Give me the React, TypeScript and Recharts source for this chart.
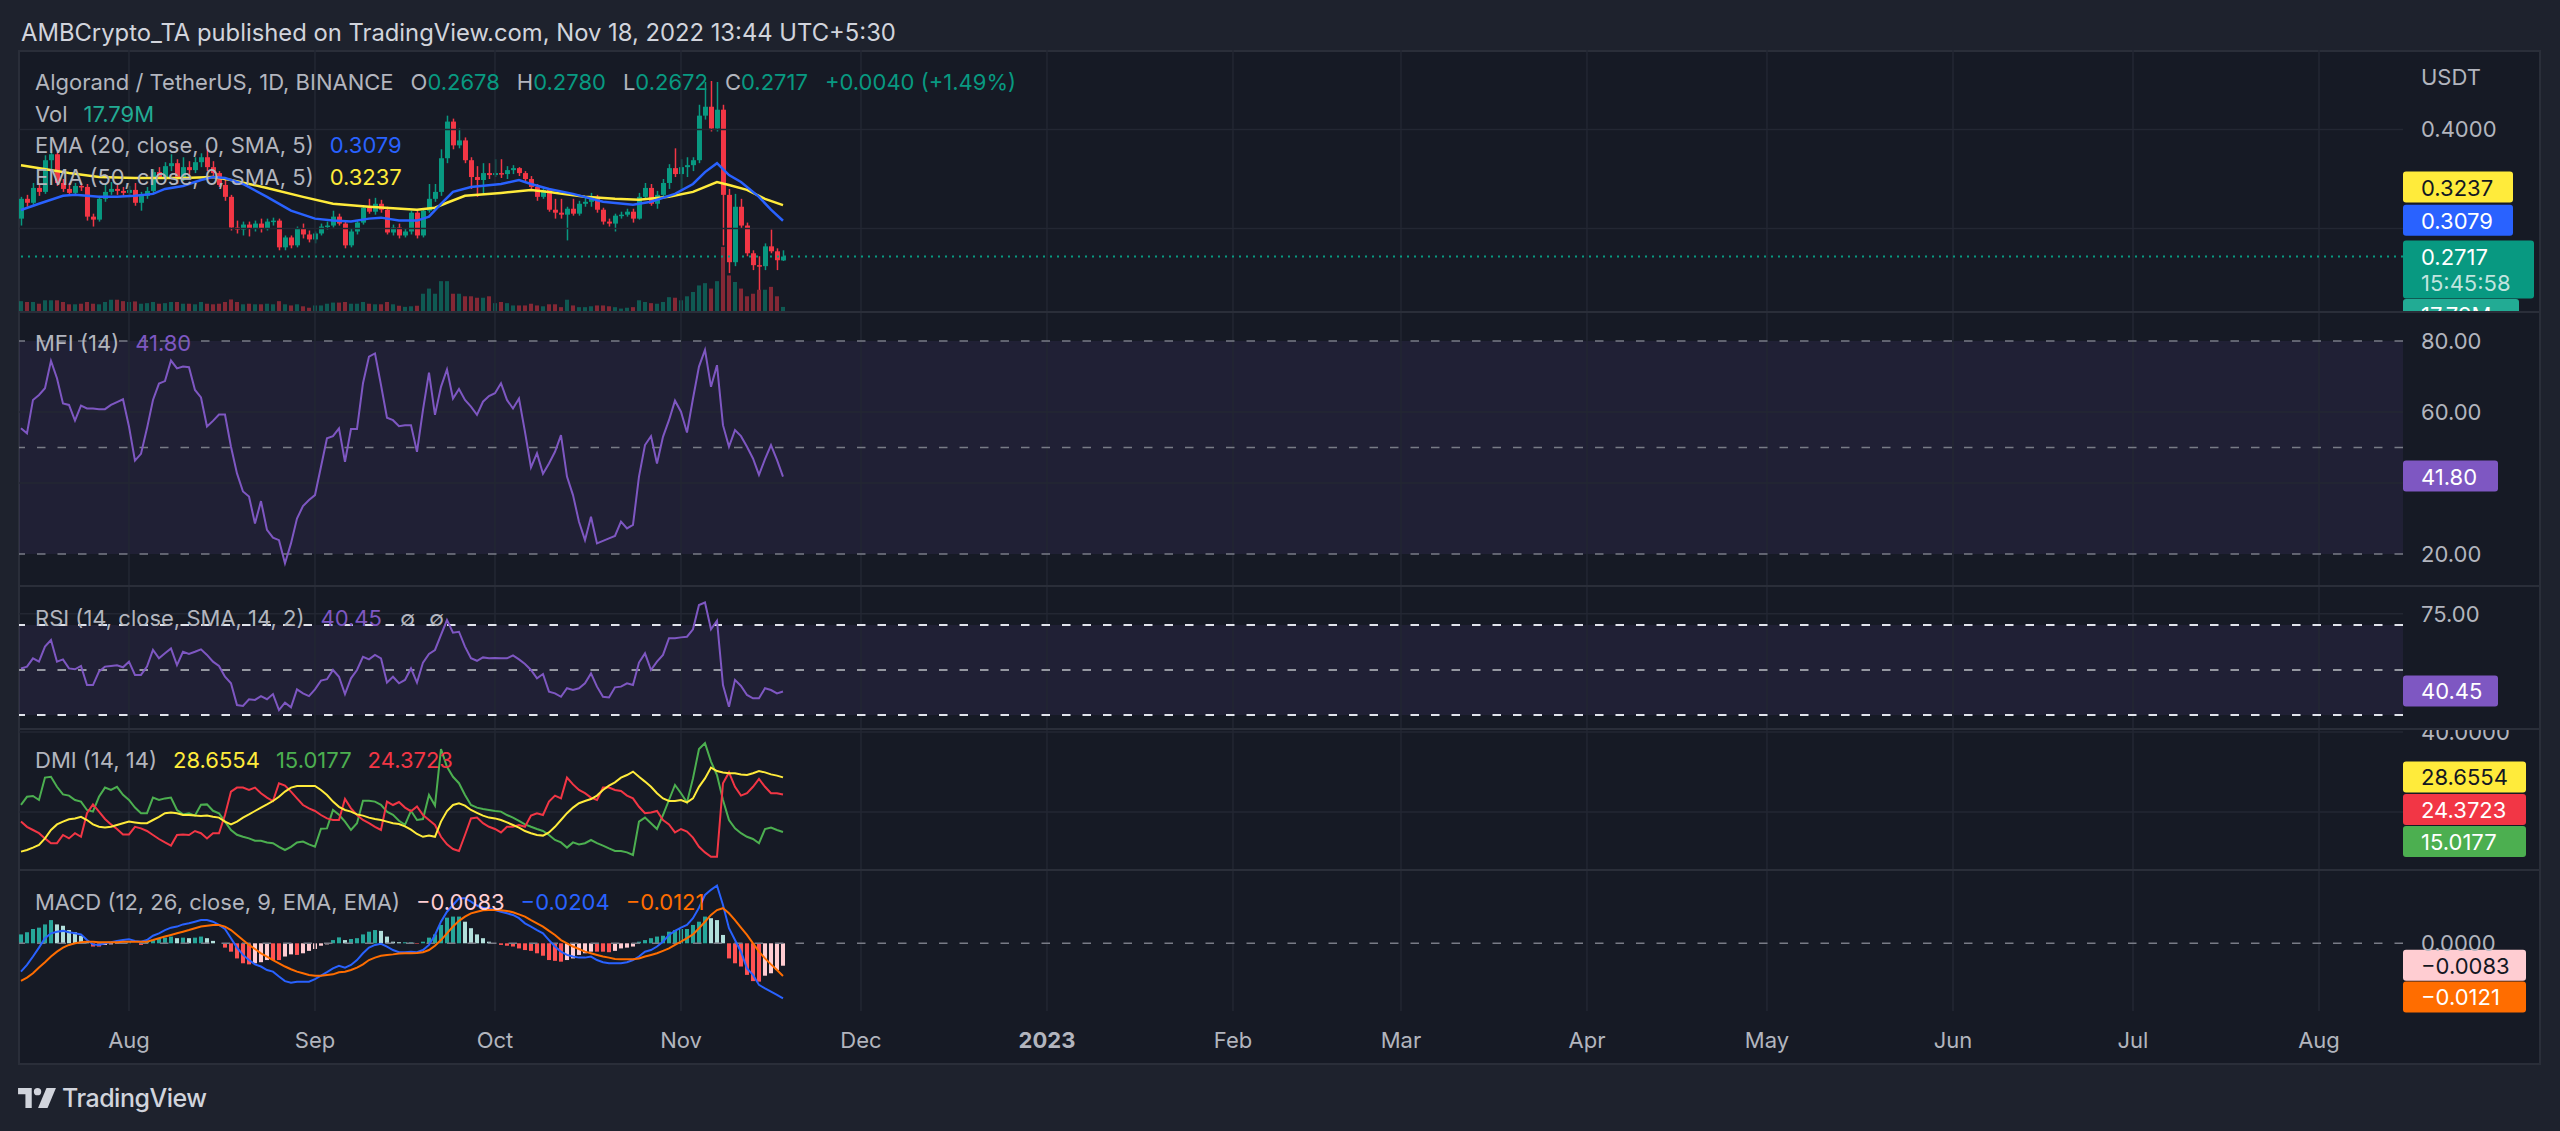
import React from 'react'
import {
  ComposedChart,
  Bar,
  Line,
  XAxis,
  YAxis,
  ReferenceLine,
  ReferenceArea,
  Cell
} from 'recharts'

const title = 'AMBCrypto_TA published on TradingView.com, Nov 18, 2022 13:44 UTC+5:30'

// day index 0 = Jul 14 2022, one candle per day up to Nov 18 (index 127)
const monthTicks = [18, 49, 79, 110, 140, 171, 202, 230, 261, 291, 322, 352, 383]
const monthLabels = ['Aug', 'Sep', 'Oct', 'Nov', 'Dec', '2023', 'Feb', 'Mar', 'Apr', 'May', 'Jun', 'Jul', 'Aug']

const openP = [
  .310, .330, .326, .341, .337, .369, .375, .346, .340, .336,
  .343, .342, .312, .309, .330, .337, .340, .338, .336, .339,
  .326, .333, .338, .357, .352, .363, .366, .350, .362, .359,
  .367, .372, .362, .356, .344, .332, .301, .299, .304, .300,
  .305, .300, .307, .308, .281, .291, .283, .300, .294, .289,
  .295, .302, .303, .312, .305, .283, .297, .306, .321, .317,
  .325, .319, .296, .301, .293, .297, .316, .293, .318, .330,
  .337, .371, .408, .384, .389, .369, .352, .349, .356, .354,
  .356, .355, .359, .361, .356, .350, .342, .332, .339, .319,
  .316, .314, .320, .315, .325, .327, .332, .319, .307, .305,
  .313, .314, .317, .310, .332, .341, .325, .334, .346, .361,
  .355, .362, .364, .369, .414, .423, .401, .420, .334, .266,
  .322, .303, .275, .263, .262, .282, .277, .2678
]
const highP = [
  .332, .334, .346, .344, .374, .380, .377, .350, .346, .346,
  .346, .345, .315, .333, .345, .347, .344, .342, .343, .346,
  .337, .342, .360, .362, .367, .375, .370, .372, .368, .372,
  .376, .384, .368, .358, .350, .334, .308, .307, .307, .308,
  .310, .310, .311, .310, .293, .293, .302, .305, .298, .297,
  .305, .307, .318, .315, .307, .300, .308, .323, .330, .331,
  .329, .322, .304, .305, .300, .318, .319, .320, .345, .345,
  .380, .414, .411, .401, .392, .372, .363, .366, .366, .370,
  .370, .363, .364, .362, .358, .353, .345, .341, .341, .330,
  .330, .322, .330, .328, .331, .336, .334, .321, .310, .315,
  .317, .320, .320, .336, .346, .345, .338, .350, .365, .381,
  .370, .372, .372, .425, .448, .449, .448, .425, .340, .335,
  .330, .306, .278, .272, .285, .299, .280, .2780
]
const lowP = [
  .303, .322, .324, .333, .335, .360, .343, .337, .333, .334,
  .338, .308, .302, .307, .327, .334, .334, .333, .332, .323,
  .318, .330, .335, .350, .350, .358, .345, .348, .355, .356,
  .362, .358, .352, .342, .328, .298, .295, .293, .292, .297,
  .296, .298, .303, .278, .278, .280, .281, .290, .286, .285,
  .293, .299, .301, .303, .280, .281, .294, .304, .315, .314,
  .316, .294, .293, .290, .291, .294, .290, .291, .316, .327,
  .333, .366, .380, .381, .366, .340, .332, .335, .350, .352,
  .351, .350, .355, .353, .348, .339, .328, .330, .317, .310,
  .310, .288, .313, .313, .322, .322, .316, .304, .302, .297,
  .310, .312, .306, .309, .330, .323, .320, .332, .340, .352,
  .340, .352, .358, .366, .410, .398, .398, .283, .255, .262,
  .300, .272, .258, .238, .258, .275, .258, .2672
]
const closeP = [
  .330, .326, .341, .337, .369, .375, .346, .340, .336, .343,
  .342, .312, .309, .330, .337, .340, .338, .336, .339, .326,
  .333, .338, .357, .352, .363, .366, .350, .362, .359, .367,
  .372, .362, .356, .344, .332, .301, .299, .304, .300, .305,
  .300, .307, .308, .281, .291, .283, .300, .294, .289, .295,
  .302, .303, .312, .305, .283, .297, .306, .321, .317, .325,
  .319, .296, .301, .293, .297, .316, .293, .318, .330, .337,
  .371, .408, .384, .389, .369, .352, .349, .356, .354, .356,
  .355, .359, .361, .356, .350, .342, .332, .339, .319, .316,
  .314, .320, .315, .325, .327, .332, .319, .307, .305, .313,
  .314, .317, .310, .332, .341, .325, .334, .346, .361, .355,
  .362, .364, .369, .414, .423, .401, .420, .334, .266, .322,
  .303, .275, .263, .262, .282, .277, .268, .2717
]
// volume, millions
const volM = [
  38, 35, 35, 29, 41, 41, 41, 35, 27, 27,
  29, 35, 29, 27, 35, 43, 43, 38, 35, 37,
  29, 31, 35, 29, 31, 35, 35, 29, 29, 27,
  35, 29, 27, 29, 35, 44, 35, 27, 29, 27,
  27, 29, 27, 38, 27, 23, 27, 20, 15, 23,
  23, 29, 33, 33, 35, 29, 29, 35, 29, 27,
  27, 35, 27, 22, 18, 20, 22, 64, 82, 64,
  108, 108, 64, 64, 55, 55, 50, 50, 55, 31,
  35, 31, 23, 23, 23, 29, 23, 20, 27, 27,
  17, 43, 23, 17, 17, 20, 23, 23, 20, 17,
  12, 15, 17, 41, 35, 31, 29, 35, 52, 50,
  41, 55, 70, 93, 101, 82, 108, 228, 128, 105,
  82, 55, 64, 78, 78, 88, 55, 17.79
]
const ema20Days = [0, 3, 7, 9, 13, 16, 19, 22, 24, 27, 30, 32, 34, 37, 41, 45, 49, 52, 55, 58, 60, 63, 66, 68, 70, 72, 75, 80, 83, 85, 88, 92, 97, 102, 105, 109, 112, 114, 116, 118, 120, 123, 125, 127]
const ema20Vals = [.3187, .325, .333, .334, .332, .332, .333, .335, .340, .343, .349, .352, .351, .345, .332, .318, .310, .308, .307, .310, .311, .308, .308, .312, .325, .337, .342, .345, .349, .345, .340, .335, .327, .324, .327, .335, .345, .357, .366, .354, .347, .332, .319, .3079]
const ema50Days = [0, 8, 13, 19, 27, 32, 35, 41, 47, 52, 58, 66, 69, 71, 74, 80, 85, 88, 94, 99, 103, 108, 112, 116, 118, 121, 124, 127]
const ema50Vals = [.364, .356, .352, .351, .351, .352, .349, .341, .332, .325, .322, .319, .321, .326, .333, .336, .339, .337, .332, .330, .329, .332, .337, .347, .344, .339, .330, .3237]

const mfiV = [
  55.4, 54, 63.4, 64.8, 66.7, 74.4, 69.5, 62.4, 62, 57.6,
  61.8, 61, 61, 60.8, 60.8, 62, 62.8, 63.6, 55.9, 46.3,
  48.2, 55.4, 63.4, 68, 68.7, 74.5, 72.3, 72.8, 72.6, 66.2,
  64.1, 55.9, 57.5, 59.3, 59.3, 50.2, 42.7, 37.6, 36.2, 28.6,
  34.9, 26.8, 24.6, 23.9, 17.4, 23, 30, 33.5, 35.2, 36.6,
  44.6, 52.6, 53.2, 55.4, 46, 55.2, 55.2, 68.1, 75.6, 76.5,
  67.6, 58.4, 57.7, 56, 56.3, 56.3, 48.8, 60.6, 71.1, 59.2,
  67.1, 72, 63.8, 66.5, 63.4, 61.5, 59.2, 62.9, 64.5, 65.3,
  68.1, 63.4, 61, 63.8, 54.4, 44.4, 48.4, 42.6, 45.5, 48.8,
  53.5, 41.8, 36.6, 29.1, 23.9, 30.5, 23, 23.7, 24.4, 25.1,
  29.1, 27.2, 28.2, 41.8, 50.7, 53.2, 45.5, 53, 57.7, 63.2,
  60.1, 54.2, 63.8, 72.8, 77.5, 67.1, 73.2, 56.3, 50.2, 54.9,
  53.2, 50.2, 46.9, 42.3, 46.7, 50.7, 46.5, 41.8
]
const rsiV = [
  50.7, 51.5, 55.2, 53.7, 60.4, 63.3, 53.7, 54.7, 50.7, 50.3,
  51.8, 43.3, 43.3, 49.3, 51.5, 51.8, 52.1, 51.2, 53.7, 47.8,
  47.8, 51.5, 58.9, 55.2, 57.4, 59.6, 52.2, 58.1, 57.1, 58.1,
  59.2, 56.7, 53.7, 51.8, 47, 44.1, 34.4, 34, 37, 36.7,
  38.4, 37, 39.3, 32.2, 35.5, 33.4, 41.4, 39.6, 38.4, 41.4,
  45.3, 45.9, 50, 47, 39.3, 46.3, 50, 55.9, 54.7, 56.7,
  55.2, 44.4, 47, 44.1, 45.6, 50.7, 44.4, 53.3, 57.1, 58.9,
  65.6, 72.2, 66.6, 67, 60.4, 55.2, 54.1, 55.6, 55.2, 55.3,
  55.2, 55.2, 56.5, 54.7, 52.7, 50, 46.3, 48.2, 40.4, 39.6,
  38.1, 41.9, 41.1, 41.9, 44.1, 48.5, 42.6, 38.1, 37.8, 42.3,
  42.6, 44.1, 43.3, 53.3, 57.4, 50, 53.7, 56.7, 64.1, 64.1,
  64.5, 64.8, 68.1, 78.9, 80, 68.1, 71.9, 43.3, 33.7, 45.6,
  42.9, 38.9, 37.4, 37.4, 41.9, 41.1, 39.6, 40.45
]
const plusDI = [
  21.8, 23.8, 24, 23, 28.6, 28.8, 26.3, 24.4, 24.1, 23,
  22.6, 20.5, 20.1, 23.8, 26.1, 25.5, 26.3, 24.3, 23, 21.1,
  19.7, 19.7, 23.6, 23, 23.4, 23.6, 20.5, 19.4, 19.7, 19.1,
  21.8, 21.9, 20.3, 19.7, 17.6, 15.5, 14.3, 13.8, 13.4, 12.8,
  12.8, 12.4, 12.2, 11.3, 10.5, 11.3, 12.4, 12.6, 11.9, 11.3,
  15.8, 15.9, 20.5, 19.3, 17.6, 15.5, 17.2, 22.8, 22.8, 22.6,
  21.8, 20.1, 19.3, 17.8, 16.8, 20.3, 18, 18.25, 24.25, 21.6,
  35.75, 31.3, 28.8, 27.2, 24.25, 21.75, 21.1, 20.75, 20.5, 20.25,
  20.1, 19.25, 18.6, 17.8, 16.9, 16.3, 15.75, 15.25, 14.25, 13,
  12.4, 11.1, 12.4, 11.9, 12.2, 13, 12.2, 11.6, 10.9, 10.25,
  10.25, 9.9, 9.25, 17.6, 18.6, 17.2, 15.75, 19.25, 23, 26.75,
  24.7, 22.4, 28.4, 35.75, 37.2, 32.6, 29.25, 23, 18, 15.9,
  14.7, 13.8, 13.25, 12.2, 15.75, 16.1, 15.5, 15.0177
]
const minusDI = [
  17.6, 16.3, 15.5, 14.7, 13.4, 12.2, 12.2, 14.25, 13.4, 14.7,
  13.8, 19.7, 21.9, 20.1, 18.25, 16.9, 15.75, 14.4, 14.4, 16.3,
  15.9, 15.25, 14.25, 13.25, 12.4, 11.6, 14.25, 14.4, 14.25, 15.25,
  14.7, 13.4, 14.7, 14.7, 19.25, 25.1, 26.1, 26.1, 25.5, 26.1,
  24.7, 23.6, 22.75, 27.2, 26.6, 25.1, 23.4, 21.75, 20.9, 20.25,
  19.25, 18.4, 18, 18, 23.25, 20.9, 19.25, 18, 17.2, 16.3,
  15.5, 22.6, 21.75, 22.5, 21.1, 20.2, 21.4, 19.25, 18, 16.75,
  13.8, 11.9, 10.75, 10.25, 14.25, 18.4, 18.6, 17.2, 16.3, 15.75,
  14.9, 16.3, 16.3, 16.75, 16.3, 19.1, 19.7, 19.25, 22.6, 24.1,
  23.4, 28.6, 26.9, 25.5, 24.7, 23.6, 23, 26.1, 26.1, 25.5,
  25.25, 24.1, 23.4, 21.3, 19.7, 19.9, 20.25, 18, 16.9, 14.9,
  15.75, 15.1, 13.6, 11.3, 9.9, 8.8, 8.8, 27.2, 29.9, 26.3,
  24.1, 24.7, 26.3, 28.25, 26.3, 24.7, 24.7, 24.3723
]
const adxV = [
  10.1, 10.5, 11.1, 11.75, 13.4, 15.5, 16.9, 17.6, 18.2, 18.4,
  18.8, 18, 16.9, 16.3, 16.1, 16.3, 16.75, 17.2, 17.6, 17.4,
  17.2, 17.2, 18, 18.8, 19.7, 19.9, 19.7, 19.25, 19.25, 19.1,
  19, 19.1, 18.8, 18.6, 17.6, 16.9, 17.6, 18.6, 19.4, 20.25,
  21.1, 21.9, 22.75, 23.8, 25.1, 26.1, 26.5, 26.5, 26.5, 26.5,
  25.5, 24.25, 22.6, 21.3, 20.5, 20.1, 19.4, 19.1, 18.6, 18.25,
  18, 17.6, 17.2, 17, 16.4, 15.6, 14.5, 13.8, 14.1, 13.8,
  17.6, 20.25, 21.75, 22.2, 21.6, 20.5, 19.8, 19.1, 18.6, 18.4,
  18, 17.4, 16.75, 16.1, 15.25, 14.7, 14.25, 14.1, 14.9, 16.3,
  18, 19.7, 21.1, 22.2, 22.75, 23.25, 24.1, 25.5, 26.6, 27.4,
  28.6, 29.25, 30.1, 28.8, 27.6, 26.3, 24.7, 23.4, 22.75, 22.75,
  23, 22.4, 23.4, 26.3, 28.4, 31.1, 30.25, 29.9, 29.7, 29.7,
  29.4, 29.25, 29.7, 30.25, 29.9, 29.4, 29.1, 28.6554
]
const macdV = [
  -.0105, -.0080, -.0049, -.0016, .0019, .0037, .0043, .0046, .0041, .0037,
  .0033, .0012, -.0004, -.0006, 0, .0004, .0009, .0012, .0015, .0009,
  .0006, .0012, .0028, .0037, .0049, .0058, .0062, .0070, .0074, .0080,
  .0086, .0086, .0080, .0068, .0053, .0019, -.0016, -.0043, -.0062, -.0078,
  -.0086, -.0099, -.0105, -.0123, -.0140, -.0146, -.0142, -.0142, -.0142, -.0133,
  -.0120, -.0107, -.0093, -.0083, -.0090, -.0080, -.0062, -.0037, -.0016, -.0006,
  -.0002, -.0012, -.0025, -.0033, -.0033, -.0031, -.0033, -.0025, -.0006, .0031,
  .0080, .0117, .0142, .0167, .0167, .0154, .0140, .0132, .0130, .0123,
  .0117, .0111, .0105, .0093, .0074, .0062, .0049, .0037, .0012, -.0012,
  -.0031, -.0043, -.0049, -.0053, -.0053, -.0049, -.0062, -.0070, -.0074, -.0074,
  -.0074, -.0070, -.0062, -.0049, -.0031, -.0025, -.0012, .0006, .0031, .0046,
  .0058, .0068, .0093, .0132, .0179, .0198, .0214, .0142, .0056, .0012,
  -.0031, -.0093, -.0117, -.0154, -.0167, -.0179, -.0191, -.0204
]
const signalV = [
  -.0139, -.0127, -.0111, -.0090, -.0070, -.0049, -.0031, -.0016, -.0006, 0,
  .0004, .0006, .0006, .0004, .0004, .0004, .0004, .0006, .0006, .0006,
  .0006, .0006, .0012, .0019, .0025, .0031, .0037, .0043, .0049, .0056,
  .0062, .0065, .0068, .0068, .0062, .0049, .0031, .0012, -.0006, -.0021,
  -.0037, -.0049, -.0062, -.0074, -.0086, -.0096, -.0105, -.0111, -.0117, -.0120,
  -.0120, -.0117, -.0115, -.0107, -.0105, -.0099, -.0090, -.0078, -.0062, -.0053,
  -.0046, -.0043, -.0041, -.0038, -.0037, -.0037, -.0036, -.0033, -.0025, -.0009,
  .0012, .0037, .0062, .0083, .0099, .0111, .0117, .0122, .0123, .0123,
  .0122, .0120, .0115, .0107, .0099, .0086, .0074, .0062, .0046, .0031,
  .0012, 0, -.0012, -.0021, -.0031, -.0037, -.0043, -.0049, -.0053, -.0058,
  -.0059, -.0059, -.0059, -.0056, -.0049, -.0043, -.0037, -.0028, -.0019, -.0006,
  .0006, .0019, .0033, .0056, .0080, .0105, .0123, .0130, .0111, .0086,
  .0058, .0031, 0, -.0031, -.0056, -.0078, -.0099, -.0121
]
const histV = [
  .0033, .0041, .0053, .0058, .0070, .0086, .0070, .0065, .0049, .0041,
  .0028, .0006, -.0012, -.0012, -.0006, -.0004, -.0002, 0, .0004, 0,
  -.0006, .0006, .0012, .0019, .0021, .0025, .0019, .0021, .0019, .0021,
  .0025, .0019, .0009, 0, -.0016, -.0031, -.0056, -.0074, -.0078, -.0074,
  -.0070, -.0062, -.0062, -.0062, -.0049, -.0041, -.0043, -.0037, -.0028, -.0021,
  -.0009, -.0004, .0012, .0022, .0012, .0016, .0019, .0033, .0043, .0049,
  .0046, .0025, .0006, .0004, .0004, .0004, -.0002, .0006, .0021, .0033,
  .0068, .0095, .0099, .0099, .0080, .0056, .0033, .0019, .0006, 0,
  -.0006, -.0009, -.0012, -.0019, -.0025, -.0028, -.0037, -.0046, -.0062, -.0065,
  -.0068, -.0062, -.0056, -.0043, -.0037, -.0031, -.0031, -.0031, -.0033, -.0028,
  -.0019, -.0016, -.0012, .0006, .0012, .0019, .0025, .0028, .0043, .0049,
  .0053, .0053, .0068, .0080, .0099, .0093, .0086, .0031, -.0056, -.0074,
  -.0086, -.0117, -.0140, -.0142, -.0120, -.0111, -.0099, -.0083
]

const priceTicks = [0.4]
const mfiTicks = [20, 60, 80]
const rsiTicks = [75]
const dmiTicks = [40]
const macdTicks = [0]

// colours
const UP = '#089981'
const DOWN = '#f23645'
const GRID = '#232733'
const TXT = '#b2b5be'
const BG = '#161a25'

const W = 2522
const AXW = 138
const LEFT = 19
const xDomain: [number, number] = [-0.33, 397]

const ema20Map = new Map(ema20Days.map((d, i) => [d, ema20Vals[i]]))
const ema50Map = new Map(ema50Days.map((d, i) => [d, ema50Vals[i]]))

const rows = closeP.map((c, i) => ({
  d: i,
  o: openP[i],
  h: highP[i],
  l: lowP[i],
  c,
  vol: volM[i],
  ema20: ema20Map.get(i),
  ema50: ema50Map.get(i),
  mfi: mfiV[i],
  rsi: rsiV[i],
  pdi: plusDI[i],
  mdi: minusDI[i],
  adx: adxV[i],
  macd: macdV[i],
  signal: signalV[i],
  hist: histV[i]
}))

const histColor = (i: number) => {
  const v = histV[i]
  const p = i > 0 ? histV[i - 1] : 0
  if (v >= 0) return v >= p ? '#26a69a' : '#b2dfdb'
  return v <= p ? '#ff5252' : '#ffcdd2'
}

const Candle = (p: any) => {
  const { x, y, width, height, payload } = p
  if (!payload || height == null) return null
  const top = Math.min(y, y + height)
  const bot = Math.max(y, y + height)
  const { o, h, l, c } = payload
  const span = h - l || 1e-9
  const py = (v: number) => top + ((h - v) / span) * (bot - top)
  const color = c >= o ? UP : DOWN
  const cx = x + width / 2
  const b1 = py(Math.max(o, c))
  const b2 = py(Math.min(o, c))
  return (
    <g>
      <line x1={cx} x2={cx} y1={top} y2={bot} stroke={color} strokeWidth={1.5} />
      <rect x={x} y={b1} width={width} height={Math.max(1.5, b2 - b1)} fill={color} />
    </g>
  )
}

// value tag on the right scale
const makeTag = (lines: string[], fill: string, color: string, w: number, dy = 0) => (p: any) => {
  const vb = p.viewBox || {}
  const x0 = (vb.x || 0) + (vb.width || 0)
  const yc = (vb.y || 0) + dy
  const h = lines.length > 1 ? 58 : 31
  return (
    <g>
      <rect x={x0} y={yc - 16} width={w} height={h} rx={3} fill={fill} />
      {lines.map((s, i) => (
        <text key={i} x={x0 + 18} y={yc + i * 26} dominantBaseline="central" fontSize={22}
          fill={i ? 'rgba(255,255,255,0.75)' : color}>{s}</text>
      ))}
    </g>
  )
}

const axisProps = {
  orientation: 'right' as const,
  width: AXW,
  tickLine: false,
  axisLine: false,
  tickSize: 0,
  tickMargin: 18,
  allowDataOverflow: true,
  interval: 0 as const,
  tick: { fill: TXT, fontSize: 22 }
}

const vGrid = (yId: string) =>
  monthTicks.map(t => (
    <ReferenceLine key={'v' + t} xAxisId="main" yAxisId={yId} x={t} stroke={GRID} strokeWidth={1.5} />
  ))

const hLines = (yId: string, vals: number[]) =>
  vals.map(v => (
    <ReferenceLine key={'h' + v} xAxisId="main" yAxisId={yId} y={v} stroke={GRID} strokeWidth={1.5} />
  ))

const dash = (yId: string, v: number, color: string, sw = 1.5) => (
  <ReferenceLine key={'d' + v} xAxisId="main" yAxisId={yId} y={v} stroke={color} strokeWidth={sw} strokeDasharray="8.5 12" />
)

const MonthTick = (props: any) => {
  const { x, y, payload } = props
  const label = monthLabels[monthTicks.indexOf(payload.value)]
  return (
    <text x={x} y={y + 29} textAnchor="middle" dominantBaseline="central" fill={TXT} fontSize={22}
      fontWeight={label === '2023' ? 700 : 400}>{label}</text>
  )
}

const Pane = ({ top, height, children }: any) => (
  <div style={{ position: 'absolute', left: LEFT, top, width: W, height, overflow: 'hidden' }}>{children}</div>
)

const Legend = ({ top, items }: { top: number; items: [string, string, number][] }) => (
  <div style={{ position: 'absolute', left: 35, top, transform: 'translateY(-50%)', fontSize: 22, lineHeight: 1, whiteSpace: 'nowrap', display: 'flex' }}>
    {items.map(([t, c, m], i) => (
      <span key={i} style={{ color: c, marginLeft: m }}>{t}</span>
    ))}
  </div>
)

const noMargin = { top: 0, right: 0, bottom: 0, left: 0 }
const hiddenX = (id: string) => <XAxis xAxisId={id} dataKey="d" type="number" domain={xDomain} hide allowDataOverflow />

const App = () => {
  return (
    <div style={{ position: 'absolute', left: 0, top: 0, width: 2560, height: 1131, background: '#1e222d', overflow: 'hidden', fontFamily: 'Inter, Roboto, "Noto Sans", sans-serif' }}>
      <div style={{ position: 'absolute', left: 21, top: 32, transform: 'translateY(-50%)', fontSize: 23.8, color: '#d1d4dc', whiteSpace: 'nowrap' }}>{title}</div>
      <div style={{ position: 'absolute', left: 18, top: 50, width: 2523, height: 1015, background: BG, border: '2px solid #2a2e39', boxSizing: 'border-box' }} />

      {/* price + volume */}
      <Pane top={50} height={262}>
        <ComposedChart width={W} height={262} data={rows} margin={noMargin}>
          {hiddenX('main')}
          {hiddenX('vol')}
          <YAxis yAxisId="price" domain={[0.2157, 0.4803]} ticks={priceTicks} tickFormatter={(v: number) => v.toFixed(4)} {...axisProps} />
          <YAxis yAxisId="vol" domain={[0, 917]} hide allowDataOverflow />
          {vGrid('price')}
          {hLines('price', [0.3, 0.4])}
          <Bar xAxisId="vol" yAxisId="vol" dataKey="vol" barSize={4} isAnimationActive={false}>
            {rows.map((r, i) => (
              <Cell key={i} fill={r.c >= r.o ? 'rgba(8,153,129,0.5)' : 'rgba(242,54,69,0.5)'} />
            ))}
          </Bar>
          <Bar xAxisId="main" yAxisId="price" dataKey={(r: any) => [r.l, r.h]} barSize={5} shape={Candle} isAnimationActive={false} />
          <Line xAxisId="main" yAxisId="price" dataKey="ema50" stroke="#ffeb3b" strokeWidth={2.5} dot={false} connectNulls isAnimationActive={false} />
          <Line xAxisId="main" yAxisId="price" dataKey="ema20" stroke="#2962ff" strokeWidth={2.5} dot={false} connectNulls isAnimationActive={false} />
          <ReferenceLine xAxisId="main" yAxisId="price" y={0.2717} stroke={UP} strokeWidth={2} strokeDasharray="2 5" />
          <ReferenceLine xAxisId="main" yAxisId="price" y={0.3237} stroke="none" label={makeTag(['0.3237'], '#ffeb3b', '#131722', 110, -17.5)} />
          <ReferenceLine xAxisId="main" yAxisId="price" y={0.3079} stroke="none" label={makeTag(['0.3079'], '#2962ff', '#ffffff', 110)} />
          <ReferenceLine xAxisId="main" yAxisId="price" y={0.2717} stroke="none" label={makeTag(['0.2717', '15:45:58'], UP, '#ffffff', 131)} />
          <ReferenceLine xAxisId="vol" yAxisId="vol" y={17.79} stroke="none" label={makeTag(['17.79M'], '#22ab94', '#ffffff', 116, 8)} />
        </ComposedChart>
      </Pane>

      {/* MFI */}
      <Pane top={312} height={274}>
        <ComposedChart width={W} height={274} data={rows} margin={noMargin}>
          {hiddenX('main')}
          <YAxis yAxisId="mfi" domain={[10.99, 88.17]} ticks={mfiTicks} tickFormatter={(v: number) => v.toFixed(2)} {...axisProps} />
          <ReferenceArea xAxisId="main" yAxisId="mfi" y1={20} y2={80} fill="#7e57c2" fillOpacity={0.1} stroke="none" />
          {vGrid('mfi')}
          {hLines('mfi', [40, 60])}
          {dash('mfi', 80, '#787b86')}
          {dash('mfi', 50, '#787b86')}
          {dash('mfi', 20, '#787b86')}
          <Line xAxisId="main" yAxisId="mfi" dataKey="mfi" stroke="#7e57c2" strokeWidth={2} dot={false} isAnimationActive={false} />
          <ReferenceLine xAxisId="main" yAxisId="mfi" y={41.8} stroke="none" label={makeTag(['41.80'], '#7e57c2', '#ffffff', 95)} />
        </ComposedChart>
      </Pane>

      {/* RSI */}
      <Pane top={586} height={143}>
        <ComposedChart width={W} height={143} data={rows} margin={noMargin}>
          {hiddenX('main')}
          <YAxis yAxisId="rsi" domain={[23.78, 87.33]} ticks={rsiTicks} tickFormatter={(v: number) => v.toFixed(2)} {...axisProps} />
          <ReferenceArea xAxisId="main" yAxisId="rsi" y1={30} y2={70} fill="#7e57c2" fillOpacity={0.1} stroke="none" />
          {vGrid('rsi')}
          {hLines('rsi', [75])}
          {dash('rsi', 70, '#e0e3eb', 2)}
          {dash('rsi', 50, '#9598a1', 2)}
          {dash('rsi', 30, '#e0e3eb', 2)}
          <Line xAxisId="main" yAxisId="rsi" dataKey="rsi" stroke="#7e57c2" strokeWidth={2} dot={false} isAnimationActive={false} />
          <ReferenceLine xAxisId="main" yAxisId="rsi" y={40.45} stroke="none" label={makeTag(['40.45'], '#7e57c2', '#ffffff', 95)} />
        </ComposedChart>
      </Pane>

      {/* DMI */}
      <Pane top={729} height={141}>
        <ComposedChart width={W} height={141} data={rows} margin={noMargin}>
          {hiddenX('main')}
          <YAxis yAxisId="dmi" domain={[5.5, 40.75]} ticks={dmiTicks} tickFormatter={(v: number) => v.toFixed(4)} {...axisProps} />
          {vGrid('dmi')}
          {hLines('dmi', [20, 40])}
          <Line xAxisId="main" yAxisId="dmi" dataKey="pdi" stroke="#4caf50" strokeWidth={2} dot={false} isAnimationActive={false} />
          <Line xAxisId="main" yAxisId="dmi" dataKey="mdi" stroke={DOWN} strokeWidth={2} dot={false} isAnimationActive={false} />
          <Line xAxisId="main" yAxisId="dmi" dataKey="adx" stroke="#ffeb3b" strokeWidth={2} dot={false} isAnimationActive={false} />
          <ReferenceLine xAxisId="main" yAxisId="dmi" y={28.6554} stroke="none" label={makeTag(['28.6554'], '#ffeb3b', '#131722', 123)} />
          <ReferenceLine xAxisId="main" yAxisId="dmi" y={24.3723} stroke="none" label={makeTag(['24.3723'], DOWN, '#ffffff', 123, 15.5)} />
          <ReferenceLine xAxisId="main" yAxisId="dmi" y={15.0177} stroke="none" label={makeTag(['15.0177'], '#4caf50', '#ffffff', 123, 10)} />
        </ComposedChart>
      </Pane>

      {/* MACD + time axis */}
      <Pane top={870} height={195}>
        <ComposedChart width={W} height={195} data={rows} margin={noMargin}>
          <XAxis xAxisId="main" dataKey="d" type="number" domain={xDomain} allowDataOverflow ticks={monthTicks} interval={0}
            height={54} tickLine={false} axisLine={false} tickSize={0} tickMargin={0} tick={MonthTick} />
          <YAxis yAxisId="macd" domain={[-0.02507, 0.02715]} ticks={macdTicks} tickFormatter={(v: number) => v.toFixed(4)} {...axisProps} />
          {vGrid('macd')}
          {dash('macd', 0, '#787b86')}
          <Bar xAxisId="main" yAxisId="macd" dataKey="hist" barSize={4} isAnimationActive={false}>
            {rows.map((r, i) => (
              <Cell key={i} fill={histColor(i)} />
            ))}
          </Bar>
          <Line xAxisId="main" yAxisId="macd" dataKey="macd" stroke="#2962ff" strokeWidth={2} dot={false} isAnimationActive={false} />
          <Line xAxisId="main" yAxisId="macd" dataKey="signal" stroke="#ff6d00" strokeWidth={2} dot={false} isAnimationActive={false} />
          <ReferenceLine xAxisId="main" yAxisId="macd" y={-0.0083} stroke="none" label={makeTag(['\u22120.0083'], '#ffcdd2', '#131722', 123)} />
          <ReferenceLine xAxisId="main" yAxisId="macd" y={-0.0121} stroke="none" label={makeTag(['\u22120.0121'], '#ff6d00', '#ffffff', 123, 21.5)} />
        </ComposedChart>
      </Pane>

      {/* pane separators */}
      {[311, 585, 728, 869].map(y => (
        <div key={y} style={{ position: 'absolute', left: 18, top: y, width: 2523, height: 2, background: '#2a2e39' }} />
      ))}

      {/* legends */}
      <div style={{ position: 'absolute', left: 2421, top: 77, transform: 'translateY(-50%)', fontSize: 22, color: TXT }}>USDT</div>
      <Legend top={82} items={[
        ['Algorand / TetherUS, 1D, BINANCE', TXT, 0],
        ['O', TXT, 17], ['0.2678', UP, 0],
        ['H', TXT, 17], ['0.2780', UP, 0],
        ['L', TXT, 17], ['0.2672', UP, 0],
        ['C', TXT, 17], ['0.2717', UP, 0],
        ['+0.0040 (+1.49%)', UP, 17]
      ]} />
      <Legend top={114} items={[['Vol', TXT, 0], ['17.79M', '#22ab94', 16]]} />
      <Legend top={145} items={[['EMA (20, close, 0, SMA, 5)', TXT, 0], ['0.3079', '#2962ff', 16]]} />
      <Legend top={177} items={[['EMA (50, close, 0, SMA, 5)', TXT, 0], ['0.3237', '#ffeb3b', 16]]} />
      <Legend top={343} items={[['MFI (14)', TXT, 0], ['41.80', '#7e57c2', 16]]} />
      <Legend top={618} items={[['RSI (14, close, SMA, 14, 2)', TXT, 0], ['40.45', '#7e57c2', 16], ['\u2205', TXT, 18], ['\u2205', TXT, 14]]} />
      <Legend top={760} items={[['DMI (14, 14)', TXT, 0], ['28.6554', '#ffeb3b', 16], ['15.0177', '#4caf50', 16], ['24.3723', DOWN, 16]]} />
      <Legend top={902} items={[['MACD (12, 26, close, 9, EMA, EMA)', TXT, 0], ['\u22120.0083', '#ffcdd2', 16], ['\u22120.0204', '#2962ff', 16], ['\u22120.0121', '#ff6d00', 16]]} />

      {/* footer logo */}
      <svg style={{ position: 'absolute', left: 18, top: 1088 }} width={38} height={20} viewBox="0 0 36 19">
        <path d="M0 0h13v19H7V6H0z" fill="#d1d4dc" />
        <circle cx={18.5} cy={3.5} r={3.5} fill="#d1d4dc" />
        <path d="M27 0h9l-8 19h-9z" fill="#d1d4dc" />
      </svg>
      <div style={{ position: 'absolute', left: 62, top: 1098, transform: 'translateY(-50%)', fontSize: 25, color: '#d1d4dc', letterSpacing: -0.5, fontWeight: 500 }}>TradingView</div>
    </div>
  )
}

export default App
